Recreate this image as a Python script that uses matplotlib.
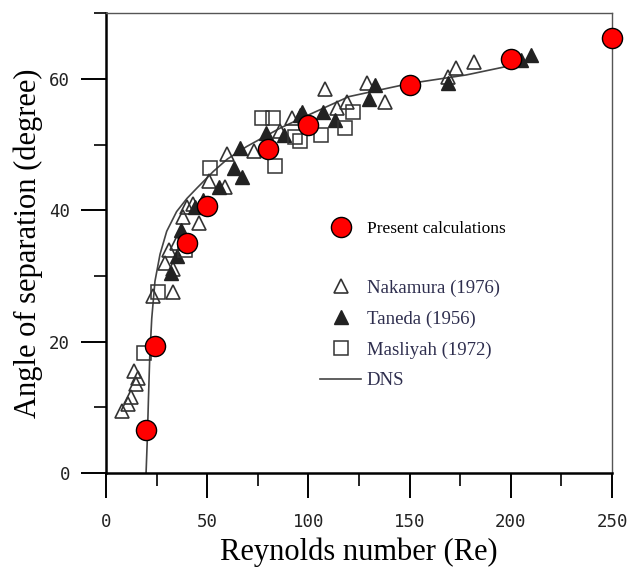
import matplotlib
matplotlib.use('Agg')
import matplotlib.pyplot as plt
from matplotlib.ticker import MultipleLocator

# present calculations (red circles)
re_present = [20, 24, 40, 50, 80, 100, 150, 200, 250]
ang_present = [6.5, 19.4, 35.0, 40.6, 49.3, 53.0, 59.1, 63.1, 66.3]

# DNS curve
re_dns = [19.8, 20.4, 21.0, 21.6, 22.6, 24.2, 26.7, 30, 34.9, 40, 45, 53, 60,
          69.5, 86, 100, 120, 150, 178, 195, 205]
ang_dns = [0.0, 5.0, 11.5, 17.5, 23.5, 29.2, 33.3, 36.8, 39.8, 41.8, 43.4,
           45.9, 47.8, 49.7, 52.5, 54.5, 57.3, 59.3, 60.6, 61.7, 62.4]

# Nakamura (1976), open triangles
re_nak = [8, 11, 12.5, 14, 15, 16, 23, 33, 29, 31, 33, 35, 38, 40, 43, 46,
          51, 59, 60, 73, 86, 92, 108, 114, 119, 129, 138, 169, 173, 182]
ang_nak = [9.5, 10.5, 11.5, 15.5, 13.5, 14.5, 27, 27.5, 32, 34, 31, 35, 39,
           40.5, 41, 38, 44.5, 43.5, 48.5, 49, 52, 54, 58.5, 55.5, 56.5, 59.3,
           56.5, 60.3, 61.6, 62.6]

# Taneda (1956), filled triangles
re_tan = [32, 35, 37, 44, 48, 56, 63, 66, 67, 79, 88, 96, 97, 107, 113, 130,
          133, 169, 205, 210]
ang_tan = [30.5, 33, 37, 40.5, 41.5, 43.5, 46.5, 49.5, 45, 51.7, 51.5, 54.5,
           55, 55, 53.7, 57, 59, 59.3, 62.8, 63.6]

# Masliyah (1972), open squares
re_mas = [19, 25.5, 39, 51.5, 77, 82.5, 83.5, 93.5, 96, 106, 118, 122]
ang_mas = [18.2, 27.5, 34, 46.5, 54, 54, 46.7, 51.2, 50.5, 51.5, 52.5, 55]

serif = 'Liberation Serif'
text_col = '#2e2e4e'

fig = plt.figure(figsize=(6.29, 5.74), dpi=100)
ax = fig.add_axes([0.1685, 0.176, 0.8045, 0.801])

dns, = ax.plot(re_dns, ang_dns, color='#444444', lw=1.2, label='DNS', zorder=2)
nak, = ax.plot(re_nak, ang_nak, ls='none', marker='^', ms=10.5, mfc='none',
               mec='#333333', mew=1.2, label='Nakamura (1976)', zorder=3)
tan, = ax.plot(re_tan, ang_tan, ls='none', marker='^', ms=10.5, mfc='#222222',
               mec='#222222', mew=1.0, label='Taneda (1956)', zorder=3)
mas, = ax.plot(re_mas, ang_mas, ls='none', marker='s', ms=10, mfc='none',
               mec='#333333', mew=1.1, label='Masliyah (1972)', zorder=3)
pres, = ax.plot(re_present, ang_present, ls='none', marker='o', ms=14.5,
                mfc='red', mec='black', mew=1.0, label='Present calculations',
                zorder=5, clip_on=False)

ax.set_xlim(0, 250)
ax.set_ylim(0, 70)
ax.xaxis.set_major_locator(MultipleLocator(50))
ax.xaxis.set_minor_locator(MultipleLocator(25))
ax.yaxis.set_major_locator(MultipleLocator(20))
ax.yaxis.set_minor_locator(MultipleLocator(10))

ax.tick_params(which='major', direction='out', length=18, width=1.4,
               color='black')
ax.tick_params(which='minor', direction='out', length=9, width=1.2,
               color='black')
ax.tick_params(axis='x', which='major', pad=11)
ax.tick_params(axis='y', which='major', pad=8)
for lab in ax.get_xticklabels() + ax.get_yticklabels():
    lab.set_family('DejaVu Sans Mono')
    lab.set_fontsize(12.5)
    lab.set_color('#222222')

ax.spines['left'].set_linewidth(1.8)
ax.spines['bottom'].set_linewidth(1.8)
for s in ('top', 'right'):
    ax.spines[s].set_linewidth(1.0)
    ax.spines[s].set_color('#555555')

ax.set_xlabel('Reynolds number (Re)', family=serif, fontsize=22, va='top')
ax.set_ylabel('Angle of separation (degree)', family=serif, fontsize=22)
ax.xaxis.set_label_coords(0.5, -0.14)
ax.yaxis.set_label_coords(-0.125, 0.5)

leg1 = ax.legend(handles=[pres], loc='center left',
                 bbox_to_anchor=(0.423, 0.530), frameon=False, borderpad=0,
                 borderaxespad=0, handlelength=2.36, handletextpad=0.35,
                 prop={'family': serif, 'size': 12.5})
ax.add_artist(leg1)
leg2 = ax.legend(handles=[nak, tan, mas, dns], loc='center left',
                 bbox_to_anchor=(0.423, 0.301), frameon=False, borderpad=0,
                 borderaxespad=0, handlelength=2.2, handletextpad=0.3,
                 labelspacing=0.72, prop={'family': serif, 'size': 13.5})
for t in leg2.get_texts():
    t.set_color(text_col)

fig.savefig('out.png', dpi=100)
